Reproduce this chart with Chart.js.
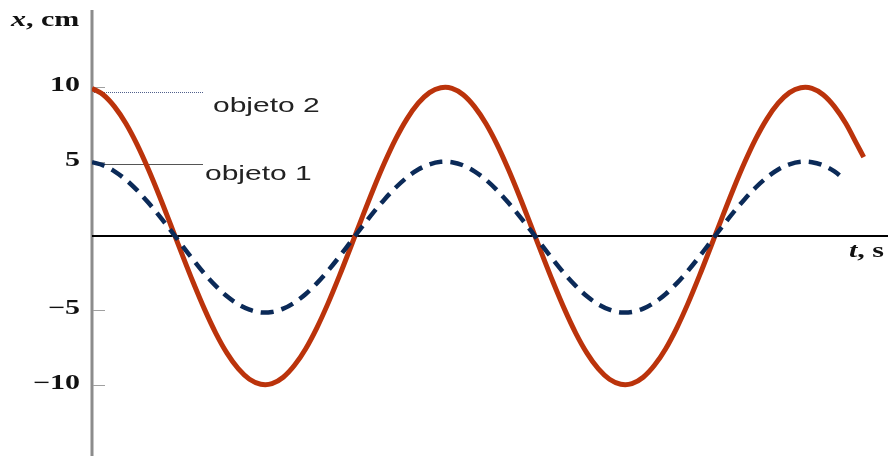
<!DOCTYPE html>
<html>
<head>
<meta charset="utf-8">
<script src="https://cdn.jsdelivr.net/npm/chart.js@4"></script>
<style>
  html, body { margin: 0; padding: 0; background: #fff; }
  #wrap { width: 888px; height: 456px; position: relative; }
</style>
</head>
<body>
<div id="wrap"><canvas id="osc"></canvas></div>
<script>
// t axis samples (arbitrary time units) and displacement in cm
const tiempo2 = [
  0, 0.5, 1, 1.5, 2, 2.5, 3, 3.5, 4, 4.5, 5, 5.5, 6, 6.5, 7, 7.5,
  8, 8.5, 9, 9.5, 10, 10.5, 11, 11.5, 12, 12.5, 13, 13.5, 14, 14.5, 15, 15.5,
  16, 16.5, 17, 17.5, 18, 18.5, 19, 19.5, 20, 20.5, 21, 21.5, 22, 22.5, 23, 23.5,
  24, 24.5, 25, 25.5, 26, 26.5, 27, 27.5, 28, 28.5, 29, 29.5, 30, 30.5, 31, 31.5,
  32, 32.5, 33, 33.5, 34, 34.3];
const objeto2 = [
  9.93, 9.50, 8.70, 7.58, 6.16, 4.50, 2.67, 0.74, -1.22, -3.13, -4.92, -6.53, -7.88, -8.93, -9.64, -9.97,
  -9.93, -9.50, -8.70, -7.58, -6.16, -4.50, -2.67, -0.74, 1.22, 3.13, 4.92, 6.53, 7.88, 8.93, 9.64, 9.97,
  9.93, 9.50, 8.70, 7.58, 6.16, 4.50, 2.67, 0.74, -1.22, -3.13, -4.92, -6.53, -7.88, -8.93, -9.64, -9.97,
  -9.93, -9.50, -8.70, -7.58, -6.16, -4.50, -2.67, -0.74, 1.22, 3.13, 4.92, 6.53, 7.88, 8.93, 9.64, 9.97,
  9.93, 9.50, 8.70, 7.58, 6.16, 5.30];

const tiempo1 = [
  0, 0.5, 1, 1.5, 2, 2.5, 3, 3.5, 4, 4.5, 5, 5.5, 6, 6.5, 7, 7.5,
  8, 8.5, 9, 9.5, 10, 10.5, 11, 11.5, 12, 12.5, 13, 13.5, 14, 14.5, 15, 15.5,
  16, 16.5, 17, 17.5, 18, 18.5, 19, 19.5, 20, 20.5, 21, 21.5, 22, 22.5, 23, 23.5,
  24, 24.5, 25, 25.5, 26, 26.5, 27, 27.5, 28, 28.5, 29, 29.5, 30, 30.5, 31, 31.5,
  32, 32.5, 33, 33.4];
const objeto1 = [
  4.96, 4.75, 4.35, 3.79, 3.08, 2.25, 1.34, 0.37, -0.63, -1.61, -2.54, -3.36, -4.06, -4.60, -4.96, -5.14,
  -5.11, -4.89, -4.48, -3.90, -3.17, -2.32, -1.38, -0.38, 0.61, 1.57, 2.46, 3.26, 3.94, 4.47, 4.82, 4.99,
  4.96, 4.75, 4.35, 3.79, 3.08, 2.25, 1.34, 0.37, -0.63, -1.61, -2.54, -3.36, -4.06, -4.60, -4.96, -5.14,
  -5.11, -4.89, -4.48, -3.90, -3.17, -2.32, -1.38, -0.38, 0.61, 1.57, 2.46, 3.26, 3.94, 4.47, 4.82, 4.99,
  4.96, 4.75, 4.35, 3.85];

const yTicks = [10, 5, -5, -10];
const yTickText = ["10", "5", "\u22125", "\u221210"];

const pts = (ts, vs) => ts.map((t, i) => ({ x: t, y: vs[i] }));

// text in the figure is drawn wide, so stretch it through a horizontal scale
const SX = 1.5;
function wideText(ctx, txt, x, y, align) {
  ctx.save();
  ctx.translate(x, y);
  ctx.scale(SX, 1);
  ctx.textAlign = align || "left";
  ctx.fillText(txt, 0, 0);
  ctx.restore();
}
function wideWidth(ctx, txt) {
  return ctx.measureText(txt).width * SX;
}

const axesPlugin = {
  id: "axesPlugin",
  beforeDatasetsDraw(chart) {
    const { ctx, chartArea: a, scales: { x, y } } = chart;
    const x0 = x.getPixelForValue(0);
    const y0 = y.getPixelForValue(0);
    ctx.save();
    // vertical axis
    ctx.strokeStyle = "#8c8c8c";
    ctx.lineWidth = 3;
    ctx.beginPath();
    ctx.moveTo(x0, a.top);
    ctx.lineTo(x0, a.bottom);
    ctx.stroke();
    // small ticks on the inside of the axis
    ctx.lineWidth = 1;
    ctx.strokeStyle = "#a0a0a0";
    yTicks.forEach(v => {
      const py = Math.round(y.getPixelForValue(v)) + 0.5;
      ctx.beginPath();
      ctx.moveTo(x0 + 1, py);
      ctx.lineTo(x0 + 13, py);
      ctx.stroke();
    });
    // zero line
    ctx.strokeStyle = "#000";
    ctx.lineWidth = 2;
    ctx.beginPath();
    ctx.moveTo(x0, y0);
    ctx.lineTo(a.right, y0);
    ctx.stroke();
    // leader lines to the series labels
    ctx.lineWidth = 1;
    ctx.strokeStyle = "#50608c";
    ctx.setLineDash([1, 1]);
    ctx.beginPath();
    ctx.moveTo(x0 + 2, 92.5);
    ctx.lineTo(203, 92.5);
    ctx.stroke();
    ctx.setLineDash([]);
    ctx.strokeStyle = "#555";
    ctx.beginPath();
    ctx.moveTo(x0 + 2, 164.5);
    ctx.lineTo(203, 164.5);
    ctx.stroke();
    ctx.restore();
  },
  afterDatasetsDraw(chart) {
    const { ctx, scales: { y } } = chart;
    ctx.save();
    ctx.fillStyle = "#111";
    ctx.textBaseline = "middle";
    ctx.font = "bold 20px 'Liberation Serif', 'DejaVu Serif', serif";
    yTicks.forEach((v, i) => {
      wideText(ctx, yTickText[i], 80, y.getPixelForValue(v) - 1, "right");
    });

    // axis titles: italic variable, upright unit
    ctx.textBaseline = "alphabetic";
    let px = 11;
    ctx.font = "bold italic 20px 'Liberation Serif', serif";
    wideText(ctx, "x", px, 26);
    px += wideWidth(ctx, "x");
    ctx.font = "bold 20px 'Liberation Serif', serif";
    wideText(ctx, ", cm", px, 26);

    px = 849;
    ctx.font = "bold italic 20px 'Liberation Serif', serif";
    wideText(ctx, "t", px, 257);
    px += wideWidth(ctx, "t");
    ctx.font = "bold 20px 'Liberation Serif', serif";
    wideText(ctx, ", s", px, 257);

    // series labels
    ctx.fillStyle = "#222";
    ctx.font = "20px 'Liberation Sans', Arial, sans-serif";
    wideText(ctx, "objeto 2", 213, 112);
    wideText(ctx, "objeto 1", 205, 180);
    ctx.restore();
  }
};

new Chart(document.getElementById("osc"), {
  type: "scatter",
  data: {
    datasets: [
      {
        label: "objeto 1",
        data: pts(tiempo1, objeto1),
        showLine: true,
        borderColor: "#0b2a58",
        borderWidth: 4.5,
        borderDash: [13, 8],
        tension: 0.33,
        pointRadius: 0,
        fill: false
      },
      {
        label: "objeto 2",
        data: pts(tiempo2, objeto2),
        showLine: true,
        borderColor: "#bb330b",
        borderWidth: 5,
        tension: 0.33,
        pointRadius: 0,
        fill: false
      }
    ]
  },
  options: {
    responsive: true,
    maintainAspectRatio: false,
    animation: false,
    layout: { padding: { left: 92, top: 10, right: 0, bottom: 0 } },
    scales: {
      x: { type: "linear", display: false, min: 0, max: 35.38 },
      y: { type: "linear", display: false, min: -14.8, max: 15.2 }
    },
    plugins: {
      legend: { display: false },
      tooltip: { enabled: false }
    }
  },
  plugins: [axesPlugin]
});
</script>
</body>
</html>
